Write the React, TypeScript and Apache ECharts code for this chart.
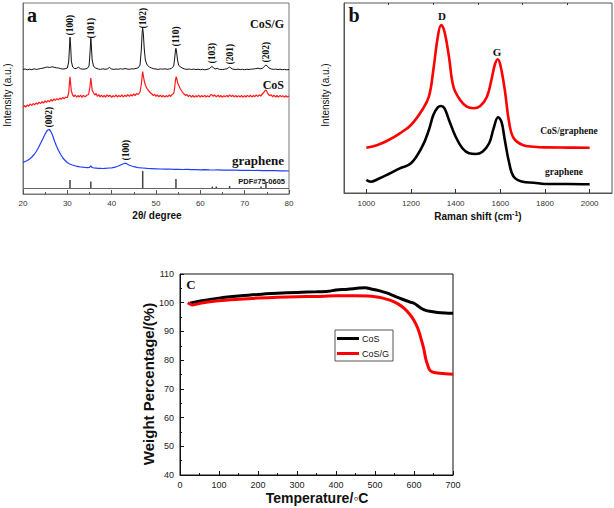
import React, { useEffect, useRef } from 'react';
import * as echarts from 'echarts';

// ---------- Panel a: XRD ----------
const xrdCosG: [number, number][] = [
  [20,124.5],[20.5,125],[21,124.2],[21.5,124.8],[22,124.3],[22.5,125.2],[23,124.6],[23.5,125],[24,125.5],[24.5,125.8],
  [25,126.5],[25.5,127],[26,126.5],[26.5,127.2],[27,126.8],[27.5,126.2],[28,126],[28.5,125.3],[29,125],[29.5,125.2],
  [30,126],[30.3,132],[30.5,148],[30.6,156.7],[30.75,148],[30.9,133],[31.2,127],[31.6,125.5],[32,125.5],[32.5,126.8],
  [33,125.2],[33.5,124.8],[34,125],[34.5,125.6],[34.9,128],[35.1,140],[35.3,155.7],[35.45,146],[35.6,134],[35.9,128],
  [36.3,126],[37,125],[37.5,124.6],[38,125.2],[38.5,124.7],[39,125],[39.5,126.5],[40,125],[40.5,124.6],[41,125],
  [41.5,124.7],[42,125.3],[42.5,124.8],[43,125.5],[43.5,125],[44,124.7],[44.5,125.2],[45,125],[45.5,125.6],[46,126.2],
  [46.4,129],[46.7,145],[46.9,163],[47.0,165.7],[47.15,160],[47.35,145],[47.6,134],[48,129],[48.5,127],[49,126],
  [49.5,125.2],[50,125],[50.5,124.6],[51,125.1],[51.5,124.8],[52,125.2],[52.5,124.7],[53,125],[53.5,125.6],[54,128],
  [54.2,135],[54.4,144],[54.5,145.7],[54.65,142],[54.85,134],[55.1,129],[55.5,127],[56,125.8],[56.5,125],[57,124.6],
  [57.5,125],[58,124.5],[58.5,124.9],[59,124.4],[59.5,124.8],[60,124.3],[60.5,124.7],[61,124.2],[61.5,124.6],[62,125.2],
  [62.4,126.8],[62.6,127.5],[62.9,126.5],[63.3,125],[63.8,125.6],[64.3,124.6],[65,124.5],[65.5,124.8],[66,125.2],[66.4,126.5],
  [66.6,127],[66.9,126],[67.3,124.8],[68,124.5],[68.5,124.9],[69,124.4],[69.5,124.7],[70,124.3],[70.5,124.8],[71,124.5],
  [71.5,124.9],[72,125],[72.5,125.4],[73,125.8],[73.5,125.2],[74,125.6],[74.4,127.5],[74.8,129],[75.1,128],[75.5,126],
  [76,125],[76.5,124.6],[77,124.9],[77.5,124.4],[78,124.8],[78.5,124.3],[79,124.6],[79.5,124.2],[80,124.5]
];

const xrdCos: [number, number][] = [
  [20,86.5],[20.3,88.5],[20.6,87],[21,89],[21.3,87.8],[21.6,90],[22,88.5],[22.3,90.5],[22.6,89.2],[23,91],
  [23.3,89.8],[23.6,91.8],[24,90.5],[24.3,92.3],[24.6,91],[25,93],[25.3,91.6],[25.6,93.5],[26,92.2],[26.3,94.5],
  [26.6,93],[27,95],[27.3,93.6],[27.6,95.2],[28,94.2],[28.3,96],[28.6,94.8],[29,96.5],[29.3,95.2],[29.6,97],
  [30,96.2],[30.3,101],[30.5,112],[30.6,117.3],[30.75,110],[30.9,103],[31.2,99],[31.5,97.5],[31.8,99],[32.1,96.8],
  [32.4,98.5],[32.7,97],[33,99],[33.3,96.5],[33.6,98.6],[34,97.2],[34.4,98.8],[34.8,99.5],[35.1,107],[35.3,116],
  [35.45,110],[35.6,104],[35.9,101],[36.2,99],[36.5,100.5],[36.8,97.5],[37.1,99.5],[37.4,97],[37.7,99],[38,96.8],
  [38.3,98.6],[38.6,97],[39,99.2],[39.3,97.3],[39.6,98.8],[40,96.6],[40.3,98.4],[40.6,97.2],[41,99],[41.3,96.8],
  [41.6,98.6],[42,97.3],[42.3,99.1],[42.6,97],[43,98.8],[43.3,97.4],[43.6,99.3],[44,97.6],[44.3,99.5],[44.6,98],
  [45,100],[45.3,98.4],[45.6,100.5],[46,99.5],[46.4,102],[46.7,110],[46.9,119],[47.0,122.3],[47.15,118],[47.35,113],
  [47.6,109],[47.9,106],[48.2,104],[48.5,102.5],[48.8,101],[49.1,100],[49.4,98.5],[49.7,99.6],[50,97.5],[50.3,99.2],
  [50.6,97.2],[51,98.8],[51.3,97],[51.6,98.6],[52,96.8],[52.3,98.5],[52.6,97.2],[53,99],[53.3,97.5],[53.6,99.4],
  [54,100.5],[54.2,106],[54.4,114],[54.55,117.3],[54.7,115],[54.9,111],[55.2,108],[55.5,105],[55.8,103],[56.1,101],
  [56.4,99.8],[56.7,98.5],[57,99.5],[57.3,97.4],[57.6,98.8],[58,97],[58.3,98.6],[58.6,96.8],[59,98.4],[59.3,97],
  [59.6,98.8],[60,96.9],[60.3,98.5],[60.6,97.1],[61,98.7],[61.3,96.8],[61.6,98.3],[62,97],[62.3,98.9],[62.6,99.5],
  [62.9,97.6],[63.2,99],[63.6,97.2],[64,98.8],[64.3,97],[64.6,98.5],[65,96.8],[65.3,98.4],[65.6,97.2],[66,98.6],
  [66.3,97],[66.6,99.2],[67,97.4],[67.3,98.8],[67.6,97],[68,98.5],[68.3,96.9],[68.6,98.3],[69,97.1],[69.3,98.7],
  [69.6,96.8],[70,98.4],[70.3,97],[70.6,98.6],[71,97.2],[71.3,98.8],[71.6,97],[72,98.5],[72.3,97.3],[72.6,99],
  [73,97.5],[73.3,99.2],[73.6,98],[74,100],[74.3,101.5],[74.6,103.5],[74.8,104],[75,102.5],[75.3,100],[75.6,98.4],
  [76,99.2],[76.3,97.2],[76.6,98.8],[77,97],[77.3,98.5],[77.6,96.9],[78,98.6],[78.3,97.1],[78.6,98.4],[79,96.8],
  [79.3,98.3],[79.6,97],[80,98]
];

const xrdGraphene: [number, number][] = [
  [20,31.5],[20.5,32.5],[21,33.5],[21.5,35],[22,37],[22.5,39.5],[23,42.5],[23.5,46.5],[24,51],[24.5,55.5],
  [25,60],[25.3,62.5],[25.6,64],[25.9,64.5],[26.2,63],[26.5,60.5],[26.8,57],[27.1,53],[27.5,48.5],[28,43.5],
  [28.5,39.5],[29,36],[29.5,33.5],[30,31.5],[30.5,30],[31,29.2],[31.5,28.5],[32,27.8],[32.5,27.4],[33,27],
  [33.5,26.8],[34,26.5],[34.5,26.3],[35,26.6],[35.3,28],[35.6,26.5],[36,26],[36.5,25.8],[37,25.6],[37.5,25.6],
  [38,25.5],[38.5,25.7],[39,25.8],[39.5,26],[40,26.2],[40.5,26.6],[41,27.2],[41.5,28],[42,29],[42.5,30],
  [43,30.8],[43.3,30.5],[43.7,29.5],[44,28.8],[44.5,28],[45,27.3],[45.5,26.8],[46,26.4],[47,26],[48,25.6],
  [49,25.4],[50,25.2],[51,25],[52,24.9],[53,25],[54,24.7],[55,24.6],[56,24.5],[57,24.6],[58,24.3],
  [59,24.4],[60,24.2],[61,24.3],[62,24.1],[63,24],[64,24.1],[65,23.9],[66,24],[67,23.8],[68,23.9],
  [69,23.7],[70,23.6],[71,23.7],[72,23.5],[73,23.6],[74,23.4],[75,23.5],[76,23.3],[77,23.4],[78,23.2],
  [79,23.1],[80,23]
];

const PDF_BASE = 6;
const pdfSticks: [number, number][] = [
  [30.6,8],[35.3,6.5],[47.0,17],[54.5,9],[62.7,1.5],[63.6,1.5],[66.6,2],[73.7,1.5],[74.8,5.5]
];

const hklLabels: [number, number, string][] = [
  [30.6,158,'(100)'],[35.3,155,'(101)'],[47.0,165,'(102)'],[54.5,147,'(110)'],
  [62.6,130,'(103)'],[66.6,129,'(201)'],[74.8,131,'(202)'],
  [25.9,66,'(002)'],[43.2,33,'(100)']
];

// ---------- Panel b: Raman ----------
const ramanCosG: [number, number][] = [
  [1000,45.3],[1050,48],[1100,53],[1150,59.7],[1200,68],[1250,83],[1280,96.3],[1300,123],[1320,156.3],[1335,168],
  [1350,161.3],[1370,136.3],[1390,106.3],[1420,93],[1450,86.3],[1480,84.7],[1510,87],[1540,96.3],[1560,113],[1575,128],
  [1588,133.7],[1600,128],[1620,103],[1640,69.7],[1660,54.7],[1700,48],[1750,46.3],[1800,45.6],[1900,45.4],[2000,45.3]
];
const ramanGraphene: [number, number][] = [
  [1000,13],[1020,11.3],[1050,13.7],[1100,19],[1150,24.7],[1200,29.7],[1250,46.3],[1280,63],[1300,78],[1320,85.7],
  [1335,87],[1350,84.7],[1370,73],[1400,56.3],[1430,44.7],[1460,39.7],[1490,39],[1520,41.3],[1550,49.7],[1570,64.7],
  [1590,75.7],[1605,71.3],[1620,53],[1640,29.7],[1660,16.3],[1700,11.3],[1750,10.3],[1800,9],[1900,9],[2000,8.7]
];
const ramanMajorTicks = [1000, 1200, 1400, 1600, 1800, 2000];
const ramanMinorTicks = [1100, 1300, 1500, 1700, 1900];

// ---------- Panel c: TGA ----------
const tgaCos: [number, number][] = [
  [25,99.8],[40,100.3],[60,100.8],[80,101.2],[100,101.6],[150,102.3],[200,102.9],[250,103.3],[300,103.6],[350,103.8],
  [380,104],[400,104.4],[430,104.7],[460,105.1],[475,105.2],[490,104.8],[510,104.2],[530,103.4],[550,102.3],[570,101.2],
  [590,100.2],[600,99.8],[615,98.4],[625,97.6],[640,97],[660,96.6],[680,96.4],[700,96.3]
];
const tgaCosG: [number, number][] = [
  [20,100],[25,99.6],[32,99.2],[45,99.6],[60,100],[100,100.7],[150,101.2],[200,101.6],[250,101.9],[300,102.1],
  [350,102.2],[400,102.4],[450,102.4],[480,102.3],[500,102.1],[520,101.6],[540,100.8],[560,99.5],[575,98],[590,95.8],
  [600,93.8],[610,91],[618,87.5],[625,84],[630,80.5],[635,78.3],[640,76.6],[648,75.8],[660,75.5],[680,75.3],[700,75.1]
];

const SANS = '"Liberation Sans", Arial, sans-serif';
const SERIF = '"Liberation Serif", "Times New Roman", serif';

function txt(x: number, y: number, text: string, font: string, opts: any = {}) {
  return {
    type: 'text',
    x,
    y,
    rotation: opts.rotation || 0,
    silent: true,
    style: {
      text,
      font,
      fill: opts.fill || '#111',
      align: opts.align || 'center',
      textAlign: opts.align || 'center',
      verticalAlign: 'middle',
      textVerticalAlign: 'middle',
      rich: opts.rich,
    },
  };
}

export default function App() {
  const ref = useRef<HTMLDivElement>(null);

  useEffect(() => {
    if (!ref.current) return;
    const chart = echarts.init(ref.current, null, { renderer: 'svg' });

    const hidden = { show: false };

    const option: any = {
      animation: false,
      backgroundColor: '#ffffff',
      grid: [
        { left: 23, top: 3, width: 266, height: 191, show: true, borderColor: '#777', borderWidth: 1, containLabel: false },
        { left: 344, top: 3, width: 268, height: 190, show: true, borderColor: '#555', borderWidth: 1, containLabel: false },
        { left: 180, top: 274, width: 273, height: 201, show: true, borderColor: '#111', borderWidth: 1, containLabel: false },
      ],
      xAxis: [
        {
          gridIndex: 0, type: 'value', min: 20, max: 80, interval: 10,
          axisLine: { show: true, lineStyle: { color: '#777' } },
          axisTick: { show: true, inside: true, length: 4, lineStyle: { color: '#555' } },
          minorTick: { show: true, splitNumber: 2, length: 2, lineStyle: { color: '#555' } },
          axisLabel: { fontSize: 8, fontFamily: SANS, color: '#333', margin: 5, showMinLabel: true, showMaxLabel: true },
          splitLine: hidden, minorSplitLine: hidden,
        },
        {
          gridIndex: 1, type: 'value', min: 900, max: 2100,
          axisLine: { show: true, lineStyle: { color: '#555' } },
          axisTick: { show: true, inside: true, length: 4, lineStyle: { color: '#333' }, customValues: ramanMajorTicks },
          axisLabel: {
            fontSize: 8, fontFamily: SANS, color: '#333', margin: 6, customValues: ramanMajorTicks,
            formatter: (v: number) => String(v),
          },
          splitLine: hidden,
        },
        {
          gridIndex: 1, type: 'value', min: 900, max: 2100,
          axisLine: hidden,
          axisTick: { show: true, inside: true, length: 2, lineStyle: { color: '#333' }, customValues: ramanMinorTicks },
          axisLabel: hidden,
          splitLine: hidden,
        },
        {
          gridIndex: 2, type: 'value', min: 0, max: 700, interval: 100,
          axisLine: { show: true, lineStyle: { color: '#111' } },
          axisTick: { show: true, inside: true, length: 4, lineStyle: { color: '#111' } },
          minorTick: { show: true, splitNumber: 2, length: 2, lineStyle: { color: '#111' } },
          axisLabel: { fontSize: 9, fontFamily: SANS, color: '#222', margin: 5 },
          splitLine: hidden, minorSplitLine: hidden,
        },
      ],
      yAxis: [
        {
          gridIndex: 0, type: 'value', min: 0, max: 191,
          axisLine: { show: true, lineStyle: { color: '#777' } },
          axisTick: hidden, axisLabel: hidden, splitLine: hidden,
        },
        {
          gridIndex: 1, type: 'value', min: 0, max: 190,
          axisLine: { show: true, lineStyle: { color: '#555' } },
          axisTick: hidden, axisLabel: hidden, splitLine: hidden,
        },
        {
          gridIndex: 2, type: 'value', min: 40, max: 110, interval: 10,
          axisLine: { show: true, lineStyle: { color: '#111' } },
          axisTick: { show: true, inside: true, length: 4, lineStyle: { color: '#111' } },
          minorTick: { show: true, splitNumber: 2, length: 2, lineStyle: { color: '#111' } },
          axisLabel: { fontSize: 9, fontFamily: SANS, color: '#222', margin: 6 },
          splitLine: hidden, minorSplitLine: hidden,
        },
      ],
      legend: {
        data: [
          { name: 'CoS', icon: 'rect' },
          { name: 'CoS/G', icon: 'rect' },
        ],
        orient: 'vertical',
        left: 335,
        top: 330,
        itemWidth: 22,
        itemHeight: 3,
        itemGap: 6,
        padding: [4, 4, 3, 2],
        borderColor: '#555',
        borderWidth: 1,
        backgroundColor: '#fff',
        textStyle: { fontSize: 9, fontFamily: SANS, color: '#111', padding: [0, 0, 0, -2] },
      },
      series: [
        {
          name: 'XRD CoS/G', type: 'line', xAxisIndex: 0, yAxisIndex: 0, data: xrdCosG,
          symbol: 'none', lineStyle: { color: '#111', width: 1 }, silent: true,
        },
        {
          name: 'XRD CoS', type: 'line', xAxisIndex: 0, yAxisIndex: 0, data: xrdCos,
          symbol: 'none', lineStyle: { color: '#ff1a1a', width: 1.2 }, silent: true,
        },
        {
          name: 'XRD graphene', type: 'line', xAxisIndex: 0, yAxisIndex: 0, data: xrdGraphene,
          symbol: 'none', lineStyle: { color: '#1f3fff', width: 1.2 }, silent: true,
          markLine: {
            silent: true, symbol: 'none', label: { show: false },
            lineStyle: { color: '#666', width: 1, type: 'solid' },
            data: [{ yAxis: PDF_BASE }],
          },
        },
        {
          name: 'PDF', type: 'custom', xAxisIndex: 0, yAxisIndex: 0, data: pdfSticks, silent: true,
          renderItem: (_params: any, api: any) => {
            const x = api.value(0);
            const h = api.value(1);
            const p0 = api.coord([x, PDF_BASE]);
            const p1 = api.coord([x, PDF_BASE + h]);
            return {
              type: 'line',
              shape: { x1: p0[0], y1: p0[1], x2: p1[0], y2: p1[1] },
              style: { stroke: '#444', lineWidth: 1.5 },
            };
          },
        },
        {
          name: 'hkl', type: 'scatter', xAxisIndex: 0, yAxisIndex: 0, symbolSize: 1,
          itemStyle: { color: 'rgba(0,0,0,0)' }, silent: true,
          data: hklLabels.map(([x, y, t]) => ({ value: [x, y], name: t })),
          label: {
            show: true,
            formatter: (p: any) => p.name,
            position: 'top',
            distance: 0,
            rotate: 90,
            align: 'left',
            verticalAlign: 'middle',
            fontFamily: SERIF,
            fontWeight: 'bold',
            fontSize: 9.5,
            color: '#111',
            opacity: 1,
          },
        },
        {
          name: 'Raman CoS/graphene', type: 'line', xAxisIndex: 1, yAxisIndex: 1, data: ramanCosG,
          symbol: 'none', smooth: 0.4, lineStyle: { color: '#ff0000', width: 2.6 }, silent: true,
        },
        {
          name: 'Raman graphene', type: 'line', xAxisIndex: 1, yAxisIndex: 1, data: ramanGraphene,
          symbol: 'none', smooth: 0.4, lineStyle: { color: '#000', width: 2.6 }, silent: true,
        },
        {
          name: 'CoS', type: 'line', xAxisIndex: 3, yAxisIndex: 2, data: tgaCos,
          symbol: 'none', smooth: 0.3, lineStyle: { color: '#000', width: 3 }, itemStyle: { color: '#000' },
        },
        {
          name: 'CoS/G', type: 'line', xAxisIndex: 3, yAxisIndex: 2, data: tgaCosG,
          symbol: 'none', smooth: 0.3, lineStyle: { color: '#ff0000', width: 3 }, itemStyle: { color: '#ff0000' },
        },
      ],
      graphic: [
        // panel a
        txt(32, 15, 'a', `bold 20px ${SERIF}`),
        txt(284, 24, 'CoS/G', `bold 12px ${SERIF}`, { align: 'right' }),
        txt(284, 85, 'CoS', `bold 12px ${SERIF}`, { align: 'right' }),
        txt(284, 160, 'graphene', `bold 13px ${SERIF}`, { align: 'right' }),
        txt(285, 181, 'PDF#75-0605', `bold 7.5px ${SANS}`, { align: 'right' }),
        txt(7, 95, 'Intensity (a.u.)', `10px ${SANS}`, { rotation: Math.PI / 2 }),
        txt(157, 215, '2θ/ degree', `bold 10px ${SANS}`),
        // panel b
        txt(354, 15, 'b', `bold 20px ${SERIF}`),
        txt(442, 16, 'D', `bold 11px ${SERIF}`),
        txt(497, 52, 'G', `bold 11px ${SERIF}`),
        txt(569, 131, 'CoS/graphene', `bold 9.5px ${SERIF}`),
        txt(564, 172, 'graphene', `bold 9.5px ${SERIF}`),
        txt(325, 95, 'Intensity (a.u.)', `10px ${SANS}`, { rotation: Math.PI / 2 }),
        txt(478, 216, 'Raman shift (cm{sup|-1})', `bold 10px ${SANS}`, {
          rich: { sup: { font: `bold 7px ${SANS}`, verticalAlign: 'top', padding: [0, 0, 5, 0] } },
        }),
        // panel c
        txt(191, 284, 'C', `bold 13px ${SERIF}`),
        txt(148, 384, 'Weight Percentage/(%)', `bold 15px ${SANS}`, { rotation: Math.PI / 2 }),
        txt(317, 498, 'Temperature/◦C', `bold 14px ${SANS}`),
      ],
    };

    chart.setOption(option);
    return () => {
      chart.dispose();
    };
  }, []);

  return (
    <div
      ref={ref}
      style={{ position: 'absolute', left: 0, top: 0, width: 614, height: 508, background: '#fff' }}
    />
  );
}
